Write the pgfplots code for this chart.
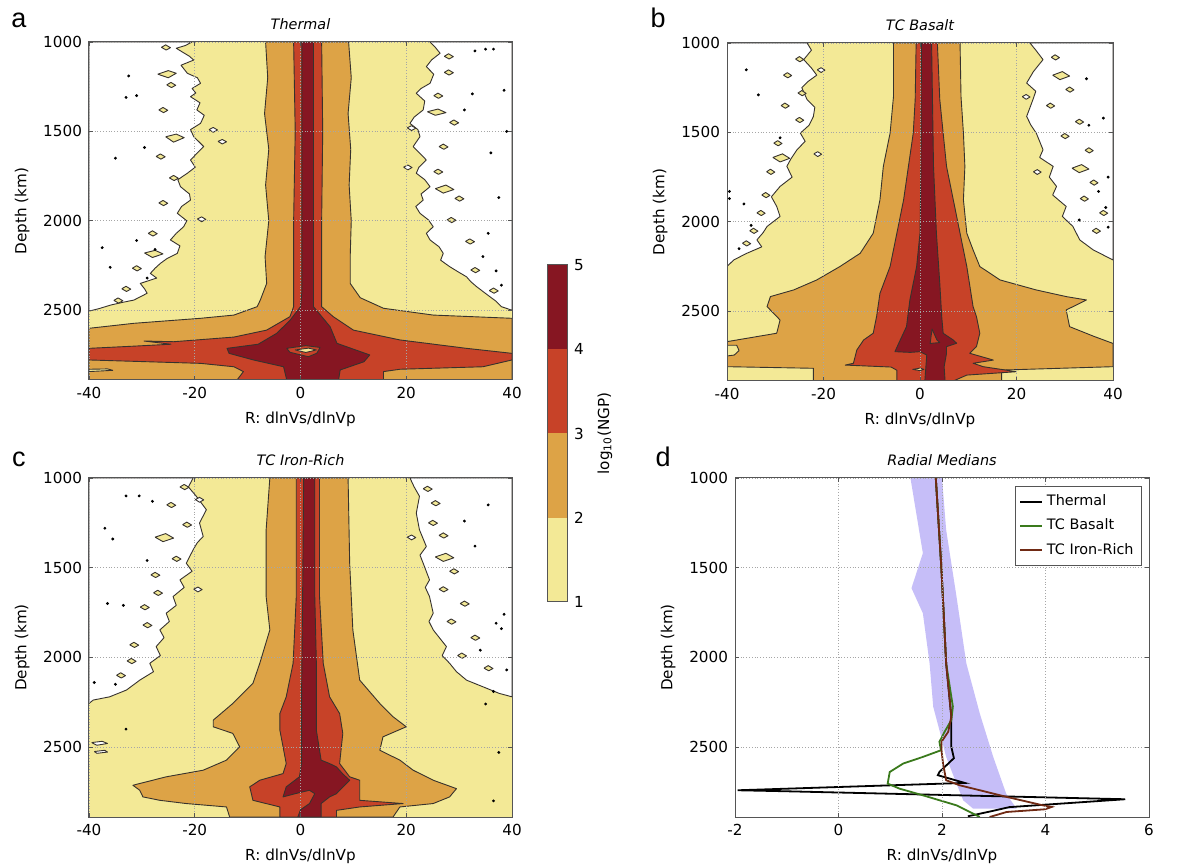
\documentclass[border=0pt]{standalone}
\usepackage{fontspec}
\setmainfont{DejaVu Sans}[ItalicFont={DejaVu Sans Oblique},BoldFont={DejaVu Sans Bold}]
\newfontfamily\letterfont{Liberation Sans}
\usepackage{pgfplots}
\pgfplotsset{compat=1.18}
\definecolor{cY}{RGB}{243,233,150}
\definecolor{cO}{RGB}{221,163,70}
\definecolor{cR}{RGB}{199,66,40}
\definecolor{cD}{RGB}{134,22,34}
\definecolor{cl}{RGB}{55,50,45}
\definecolor{band}{RGB}{198,190,248}
\definecolor{lgreen}{RGB}{58,122,28}
\definecolor{lbrown}{RGB}{112,42,20}
\definecolor{frame}{RGB}{85,85,85}
\pgfplotsset{
 every axis title shift=0pt,
 base/.style={scale only axis, axis on top, y dir=reverse, ymin=1000, ymax=2890, ytick={1000,1500,2000,2500},
   /pgf/number format/assume math mode=true, /pgf/number format/1000 sep={},
   tick label style={font=\fontsize{7.6}{9}\selectfont}, label style={font=\fontsize{7.6}{9}\selectfont},
   title style={font=\fontsize{7.2}{8}\selectfont\itshape, at={(0.5,1)}, anchor=base, yshift=6pt},
   grid=major, grid style={densely dotted, gray!70, line width=0.4pt},
   axis line style={frame, line width=0.5pt}, tick align=inside, major tick length=2pt, tick style={frame, line width=0.4pt},
   xlabel={R: dlnVs/dlnVp}, ylabel={Depth (km)}, unbounded coords=jump},
 cmap/.style={base, xmin=-40, xmax=40, xtick={-40,-20,0,20,40}},
 cf/.style={draw=cl, line width=0.45pt, line join=round},
 dots/.style={only marks, mark=*, mark size=0.5pt, black},
}
\begin{document}
\begin{tikzpicture}
\useasboundingbox (0,0) rectangle (596pt,432.5pt);
% ---------------- panel a
\begin{axis}[cmap, at={(44.5pt,242.5pt)}, anchor=south west, width=211.5pt, height=169pt, title={Thermal}]
\addplot[fill=cY, draw=none] coordinates {(-40,1000)(40,1000)(40,2890)(-40,2890)} -- cycle;
\addplot[cf, fill=white] coordinates {(-40,1000)(-20.5,1000)(-21.8,1020)(-23.5,1035)(-22.4,1055)(-21,1080)(-20.2,1101)(-22.6,1130)(-21.4,1175)(-19.5,1200)(-18.9,1231)(-20.5,1260)(-19.8,1285)(-20.8,1306)(-19,1340)(-19.6,1380)(-18.2,1410)(-18.9,1455)(-20.8,1490)(-20.2,1529)(-18.3,1585)(-19.5,1620)(-20.8,1660)(-19.9,1700)(-21.4,1734)(-23.2,1770)(-22.7,1809)(-21.0,1850)(-20.8,1884)(-22.5,1920)(-23.3,1958)(-21.5,2000)(-22.1,2033)(-23.5,2070)(-24.6,2107)(-22.8,2140)(-23.3,2182)(-25.2,2210)(-26.5,2238)(-27.5,2265)(-28.4,2294)(-27.2,2320)(-30.3,2350)(-29.5,2380)(-29.0,2405)(-31.5,2443)(-33.5,2455)(-35.9,2471)(-38,2490)(-40,2505)} -- cycle;
\addplot[cf, fill=white] coordinates {(40,1000)(24.5,1000)(25.5,1030)(26.4,1063)(24.8,1100)(23.8,1138)(25.2,1180)(24.5,1231)(22.8,1260)(21.9,1287)(23.5,1330)(23.2,1380)(21.5,1420)(20.7,1455)(22.2,1490)(22.6,1529)(21.3,1585)(22.5,1620)(23.8,1660)(22.4,1700)(21.9,1734)(23.5,1770)(24.5,1809)(22.8,1850)(23.2,1884)(21.8,1920)(22.6,1958)(24.2,1995)(25.1,2033)(23.8,2070)(24.5,2107)(26.2,2145)(27.0,2182)(26.5,2220)(28.2,2256)(29.8,2285)(31.4,2313)(32.2,2340)(33.3,2368)(35.8,2424)(37,2450)(38,2480)(40,2500)} -- cycle;
\addplot[cf, fill=cY] coordinates {
(-26.3,1030)(-25.5,1016)(-24.6,1032)(-25.4,1045)(-26.3,1030)(nan,nan)
(-27,1180)(-25,1160)(-23.5,1175)(-25,1200)(-27,1180)(nan,nan)
(-25.3,1240)(-24.5,1226)(-23.6,1242)(-24.4,1255)(-25.3,1240)(nan,nan)
(-26.8,1380)(-26,1366)(-25.1,1382)(-25.9,1395)(-26.8,1380)(nan,nan)
(-25.5,1530)(-23.5,1515)(-22,1535)(-24,1560)(-25.5,1530)(nan,nan)
(-27.3,1640)(-26.5,1626)(-25.6,1642)(-26.4,1655)(-27.3,1640)(nan,nan)
(-24.8,1760)(-24,1746)(-23.1,1762)(-23.9,1775)(-24.8,1760)(nan,nan)
(-26.8,1900)(-26,1886)(-25.1,1902)(-25.9,1915)(-26.8,1900)(nan,nan)
(-28.8,2070)(-28,2056)(-27.1,2072)(-27.9,2085)(-28.8,2070)(nan,nan)
(-29.5,2180)(-27.5,2165)(-26,2185)(-28,2205)(-29.5,2180)(nan,nan)
(-31.8,2265)(-31,2251)(-30.1,2267)(-30.9,2280)(-31.8,2265)(nan,nan)
(-33.8,2380)(-33,2366)(-32.1,2382)(-32.9,2395)(-33.8,2380)(nan,nan)
(-35.3,2445)(-34.5,2431)(-33.6,2447)(-34.4,2460)(-35.3,2445)(nan,nan)
(27.2,1080)(28,1066)(28.9,1082)(28.1,1095)(27.2,1080)(nan,nan)
(27.2,1170)(28,1156)(28.9,1172)(28.1,1185)(27.2,1170)(nan,nan)
(25.2,1300)(26,1286)(26.9,1302)(26.1,1315)(25.2,1300)(nan,nan)
(24,1390)(26,1375)(27.5,1395)(25.5,1410)(24,1390)(nan,nan)
(28.2,1450)(29,1436)(29.9,1452)(29.1,1465)(28.2,1450)(nan,nan)
(26.2,1585)(27,1571)(27.9,1587)(27.1,1600)(26.2,1585)(nan,nan)
(25.2,1725)(26,1711)(26.9,1727)(26.1,1740)(25.2,1725)(nan,nan)
(25.5,1820)(27.5,1800)(29,1825)(27,1845)(25.5,1820)(nan,nan)
(29.2,1875)(30,1861)(30.9,1877)(30.1,1890)(29.2,1875)(nan,nan)
(27.7,1995)(28.5,1981)(29.4,1997)(28.6,2010)(27.7,1995)(nan,nan)
(31.2,2115)(32,2101)(32.9,2117)(32.1,2130)(31.2,2115)(nan,nan)
(32.2,2275)(33,2261)(33.9,2277)(33.1,2290)(32.2,2275)(nan,nan)
(35.7,2390)(36.5,2376)(37.4,2392)(36.6,2405)(35.7,2390)};
\addplot[cf, fill=white] coordinates {
(-17.3,1490)(-16.5,1478)(-15.7,1492)(-16.5,1505)(-17.3,1490)(nan,nan)
(-15.6,1556)(-14.8,1545)(-14,1558)(-14.8,1570)(-15.6,1556)(nan,nan)
(-19.5,1990)(-18.7,1978)(-17.9,1992)(-18.7,2005)(-19.5,1990)(nan,nan)
(20.2,1480)(21,1468)(21.8,1482)(21,1495)(20.2,1480)(nan,nan)
(19.5,1700)(20.3,1688)(21.1,1702)(20.3,1715)(19.5,1700)};
\addplot[dots] coordinates {(-32.5,1190)(-31,1300)(-35,1650)(-29.5,1590)(-27.5,2160)(-37.5,2150)(-36,2260)(-29,2320)(-31,2110)(-33,1310)(35,1040)(36.5,1040)(33,1050)(38.5,1270)(32.5,1290)(39,1500)(36,1620)(37.5,1870)(35.5,2070)(34.5,2200)(38,2360)(37,2280)(31,1380)};
\addplot[cf, fill=cO] coordinates {(-40,2890)(-40,2601)(-31.5,2573)(-18.9,2545)(-12.6,2527)(-8.2,2480)(-7.6,2443)(-6.4,2350)(-6.7,2200)(-6.0,2000)(-6.6,1800)(-6.0,1600)(-6.8,1400)(-6.2,1200)(-6.6,1000)(9.1,1000)(9.6,1200)(9.0,1400)(9.5,1600)(9.2,1800)(9.6,2000)(9.4,2200)(9.4,2350)(11.3,2430)(15.7,2489)(25.1,2527)(40,2545)(40,2890)} -- cycle;
\addplot[cf, fill=cY] coordinates {(-40,2830)(-36.5,2828)(-35.5,2836)(-40,2843)} -- cycle;
\addplot[cf, fill=cR] coordinates {(-1.3,1000)(-1.0,1500)(-1.3,2000)(-1.3,2480)(-2.0,2536)(-6.4,2611)(-12.6,2650)(-24,2676)(-29.6,2672)(-24.5,2690)(-31,2700)(-40,2713)(-40,2778)(-18.9,2797)(-12.6,2816)(-10.8,2843)(-12,2890)(15.7,2890)(15.7,2843)(18.8,2830)(34.5,2816)(40,2778)(40,2741)(31.4,2713)(18.8,2666)(10,2611)(6.2,2536)(4.0,2480)(4.0,2000)(4.2,1500)(4.0,1000)} -- cycle;
\addplot[cf, fill=cD] coordinates {(0.25,1000)(0.25,2400)(0.0,2480)(-1.95,2555)(-4.5,2629)(-8,2690)(-13.9,2713)(-13.5,2741)(-8.9,2778)(-3.2,2816)(-2.6,2890)(7.2,2890)(7.5,2834)(12,2788)(13.1,2750)(6.9,2685)(5.6,2592)(2.45,2480)(2.45,1000)} -- cycle;
\addplot[cf, fill=cR] coordinates {(-2.6,2713)(1,2698)(3.7,2708)(3.1,2740)(1.5,2760)(-2.0,2735)} -- cycle;
\addplot[cf, fill=cY] coordinates {(-1,2722)(1.5,2712)(3.0,2722)(1,2736)} -- cycle;
\end{axis}
% ---------------- panel b
\begin{axis}[cmap, at={(363.5pt,242pt)}, anchor=south west, width=193pt, height=169pt, title={TC Basalt}]
\addplot[fill=cY, draw=none] coordinates {(-40,1000)(40,1000)(40,2890)(-40,2890)} -- cycle;
\addplot[cf, fill=white] coordinates {(-40,1000)(-23.4,1000)(-22.5,1040)(-24.1,1093)(-22.5,1140)(-21.4,1180)(-23.2,1215)(-24.5,1250)(-23.4,1317)(-21.8,1360)(-22.1,1411)(-23.0,1460)(-24.8,1504)(-23.8,1550)(-25.5,1597)(-26.8,1650)(-27.6,1690)(-26.5,1750)(-29.0,1802)(-30.8,1860)(-29.7,1914)(-29,1970)(-31.7,2026)(-32.5,2060)(-33.8,2101)(-32.8,2140)(-35.9,2176)(-38.6,2213)(-40,2250)} -- cycle;
\addplot[cf, fill=white] coordinates {(40,1000)(22.8,1000)(24,1040)(25.5,1093)(23.5,1160)(22.1,1224)(24,1270)(23.4,1317)(22.1,1411)(23,1460)(24.1,1504)(25.5,1597)(24.8,1640)(27.6,1690)(26.8,1750)(28.3,1802)(27.5,1850)(30.3,1914)(29.5,1970)(31.7,2026)(33.1,2101)(35.9,2157)(38.6,2194)(40,2213)} -- cycle;
\addplot[cf, fill=cY] coordinates {
(-25.8,1090)(-25,1076)(-24.1,1092)(-24.9,1105)(-25.8,1090)(nan,nan)
(-28.3,1180)(-27.5,1166)(-26.6,1182)(-27.4,1195)(-28.3,1180)(nan,nan)
(-25.3,1280)(-24.5,1266)(-23.6,1282)(-24.4,1295)(-25.3,1280)(nan,nan)
(-28.8,1350)(-28,1336)(-27.1,1352)(-27.9,1365)(-28.8,1350)(nan,nan)
(-25.8,1430)(-25,1416)(-24.1,1432)(-24.9,1445)(-25.8,1430)(nan,nan)
(-30.3,1560)(-29.5,1546)(-28.6,1562)(-29.4,1575)(-30.3,1560)(nan,nan)
(-30.5,1640)(-28.5,1620)(-27,1645)(-29,1665)(-30.5,1640)(nan,nan)
(-31.8,1720)(-31,1706)(-30.1,1722)(-30.9,1735)(-31.8,1720)(nan,nan)
(-32.8,1850)(-32,1836)(-31.1,1852)(-31.9,1865)(-32.8,1850)(nan,nan)
(-33.8,1950)(-33,1936)(-32.1,1952)(-32.9,1965)(-33.8,1950)(nan,nan)
(-35.3,2050)(-34.5,2036)(-33.6,2052)(-34.4,2065)(-35.3,2050)(nan,nan)
(-36.8,2120)(-36,2106)(-35.1,2122)(-35.9,2135)(-36.8,2120)(nan,nan)
(27.2,1080)(28,1066)(28.9,1082)(28.1,1095)(27.2,1080)(nan,nan)
(27.5,1180)(29.5,1160)(31,1185)(29,1205)(27.5,1180)(nan,nan)
(30.2,1260)(31,1246)(31.9,1262)(31.1,1275)(30.2,1260)(nan,nan)
(26.2,1350)(27,1336)(27.9,1352)(27.1,1365)(26.2,1350)(nan,nan)
(32.2,1440)(33,1426)(33.9,1442)(33.1,1455)(32.2,1440)(nan,nan)
(29.2,1520)(30,1506)(30.9,1522)(30.1,1535)(29.2,1520)(nan,nan)
(34.2,1600)(35,1586)(35.9,1602)(35.1,1615)(34.2,1600)(nan,nan)
(31.5,1700)(33.5,1680)(35,1705)(33,1725)(31.5,1700)(nan,nan)
(35.2,1780)(36,1766)(36.9,1782)(36.1,1795)(35.2,1780)(nan,nan)
(33.2,1870)(34,1856)(34.9,1872)(34.1,1885)(33.2,1870)(nan,nan)
(37.2,1950)(38,1936)(38.9,1952)(38.1,1965)(37.2,1950)(nan,nan)
(35.7,2050)(36.5,2036)(37.4,2052)(36.6,2065)(35.7,2050)};
\addplot[cf, fill=white] coordinates {
(-21.3,1150)(-20.5,1138)(-19.7,1152)(-20.5,1165)(-21.3,1150)(nan,nan)
(-22,1620)(-21.2,1608)(-20.4,1622)(-21.2,1635)(-22,1620)(nan,nan)
(21.2,1300)(22,1288)(22.8,1302)(22,1315)(21.2,1300)(nan,nan)
(23.5,1720)(24.3,1708)(25.1,1722)(24.3,1735)(23.5,1720)};
\addplot[dots] coordinates {(-36,1150)(-33.5,1290)(-29,1530)(-39.5,1830)(-39.5,1870)(-36.5,1900)(-35,2020)(-37.5,2150)(34.5,1200)(38,1420)(35,1460)(39,1750)(37,1830)(38.5,1920)(33,1990)(39,2030)};
\addplot[cf, fill=cO] coordinates {(-5.5,1000)(-5.5,1300)(-6.2,1504)(-7.6,1690)(-8.3,1877)(-9.7,2064)(-12.4,2176)(-16.6,2250)(-21.4,2325)(-26.2,2381)(-31.0,2418)(-31.7,2474)(-29.0,2549)(-29.7,2623)(-40,2670)(-40,2810)(-22.1,2819)(-22.1,2890)(16.9,2890)(16.9,2829)(40,2810)(40,2680)(36,2640)(31,2586)(30.3,2493)(34.5,2437)(30.3,2418)(24.1,2381)(16.6,2325)(12.4,2250)(11.0,2157)(9.7,2064)(9.0,1877)(9.3,1690)(9.0,1504)(8.5,1300)(8.3,1000)} -- cycle;
\addplot[cf, fill=cY] coordinates {(-40,2690)(-38,2690)(-37.5,2720)(-38.5,2745)(-40,2750)} -- cycle;
\addplot[cf, fill=cR] coordinates {(-0.8,1000)(-1.0,1317)(-1.4,1504)(-2.4,1690)(-3.4,1877)(-4.8,2064)(-6.2,2250)(-8.3,2400)(-9.0,2530)(-9.7,2623)(-11.7,2661)(-13.1,2717)(-13.8,2791)(-15.5,2801)(-6,2812)(-4.8,2830)(-4.8,2890)(6.9,2890)(9.7,2857)(20.0,2838)(13.1,2810)(11.0,2791)(15.2,2773)(10.3,2735)(11.7,2698)(12.4,2623)(11.7,2530)(11.0,2474)(9.7,2250)(8.3,2064)(6.9,1877)(5.5,1690)(4.8,1504)(4.1,1317)(3.6,1000)} -- cycle;
\addplot[cf, fill=cD] coordinates {(0.3,1000)(0.2,1690)(0.0,2064)(-0.7,2250)(-2.1,2437)(-2.8,2586)(-4.1,2661)(-5.2,2726)(-2,2730)(0.0,2726)(1.4,2745)(1.0,2890)(5.2,2890)(5.0,2810)(5.5,2735)(5.5,2698)(7.6,2679)(6.9,2661)(4.8,2623)(4.5,2530)(4.1,2344)(3.4,2064)(2.8,1690)(2.4,1000)} -- cycle;
\addplot[cf, fill=cR] coordinates {(2.1,2680)(2.5,2600)(3.5,2660)(4.1,2675)} -- cycle;
\addplot[cf, fill=cY] coordinates {(-1.5,2825)(0,2818)(0.8,2825)(0,2832)} -- cycle;
\end{axis}
% ---------------- panel c
\begin{axis}[cmap, at={(44.5pt,24pt)}, anchor=south west, width=211.5pt, height=169.5pt, title={TC Iron-Rich}]
\addplot[fill=cY, draw=none] coordinates {(-40,1000)(40,1000)(40,2890)(-40,2890)} -- cycle;
\addplot[cf, fill=white] coordinates {(-40,1000)(-20.3,1000)(-21.2,1050)(-19.7,1102)(-17.8,1177)(-19.1,1251)(-18.4,1326)(-19.5,1360)(-20.3,1400)(-21.6,1475)(-20.5,1520)(-22.8,1568)(-22,1610)(-24.1,1661)(-23.5,1710)(-25.4,1754)(-24.8,1800)(-26.6,1847)(-25.8,1890)(-27.3,1940)(-26.5,1990)(-28.5,2033)(-27.8,2080)(-30.4,2127)(-32.9,2182)(-36.1,2220)(-39.2,2238)(-40,2257)} -- cycle;
\addplot[cf, fill=white] coordinates {(40,1000)(20.7,1000)(21.5,1050)(22.5,1102)(21.9,1196)(22.5,1289)(23.8,1382)(22.6,1430)(23.2,1475)(24.4,1568)(23.6,1610)(24.4,1661)(25.1,1754)(24.3,1800)(25.1,1847)(27.6,1940)(26.8,1990)(28.2,2033)(29.5,2080)(31.4,2127)(34.5,2164)(37.6,2201)(40,2220)} -- cycle;
\addplot[cf, fill=white] coordinates {(-39.5,2475)(-37.5,2468)(-36.5,2480)(-38.5,2490)(-39.5,2475)(nan,nan)(-39,2525)(-37,2518)(-36.5,2528)(-38.5,2535)(-39,2525)};
\addplot[cf, fill=cY] coordinates {
(-22.8,1050)(-22,1036)(-21.1,1052)(-21.9,1065)(-22.8,1050)(nan,nan)
(-25.3,1150)(-24.5,1136)(-23.6,1152)(-24.4,1165)(-25.3,1150)(nan,nan)
(-22.3,1260)(-21.5,1246)(-20.6,1262)(-21.4,1275)(-22.3,1260)(nan,nan)
(-27.5,1330)(-25.5,1310)(-24,1335)(-26,1355)(-27.5,1330)(nan,nan)
(-24.3,1450)(-23.5,1436)(-22.6,1452)(-23.4,1465)(-24.3,1450)(nan,nan)
(-28.3,1540)(-27.5,1526)(-26.6,1542)(-27.4,1555)(-28.3,1540)(nan,nan)
(-27.8,1640)(-27,1626)(-26.1,1642)(-26.9,1655)(-27.8,1640)(nan,nan)
(-30.3,1720)(-29.5,1706)(-28.6,1722)(-29.4,1735)(-30.3,1720)(nan,nan)
(-29.8,1820)(-29,1806)(-28.1,1822)(-28.9,1835)(-29.8,1820)(nan,nan)
(-32.3,1930)(-31.5,1916)(-30.6,1932)(-31.4,1945)(-32.3,1930)(nan,nan)
(-32.8,2020)(-32,2006)(-31.1,2022)(-31.9,2035)(-32.8,2020)(nan,nan)
(-34.8,2100)(-34,2086)(-33.1,2102)(-33.9,2115)(-34.8,2100)(nan,nan)
(23.2,1060)(24,1046)(24.9,1062)(24.1,1075)(23.2,1060)(nan,nan)
(24.7,1140)(25.5,1126)(26.4,1142)(25.6,1155)(24.7,1140)(nan,nan)
(24.2,1250)(25,1236)(25.9,1252)(25.1,1265)(24.2,1250)(nan,nan)
(26.2,1320)(27,1306)(27.9,1322)(27.1,1335)(26.2,1320)(nan,nan)
(25.5,1440)(27.5,1420)(29,1445)(27,1465)(25.5,1440)(nan,nan)
(28.2,1520)(29,1506)(29.9,1522)(29.1,1535)(28.2,1520)(nan,nan)
(26.2,1620)(27,1606)(27.9,1622)(27.1,1635)(26.2,1620)(nan,nan)
(30.2,1700)(31,1686)(31.9,1702)(31.1,1715)(30.2,1700)(nan,nan)
(27.7,1800)(28.5,1786)(29.4,1802)(28.6,1815)(27.7,1800)(nan,nan)
(32.2,1890)(33,1876)(33.9,1892)(33.1,1905)(32.2,1890)(nan,nan)
(29.7,1990)(30.5,1976)(31.4,1992)(30.6,2005)(29.7,1990)(nan,nan)
(34.7,2060)(35.5,2046)(36.4,2062)(35.6,2075)(34.7,2060)};
\addplot[cf, fill=white] coordinates {
(-19.9,1120)(-19.1,1108)(-18.3,1122)(-19.1,1135)(-19.9,1120)(nan,nan)
(-20.2,1620)(-19.4,1608)(-18.6,1622)(-19.4,1635)(-20.2,1620)(nan,nan)
(20.2,1330)(21,1318)(21.8,1332)(21,1345)(20.2,1330)};
\addplot[dots] coordinates {(-33,1100)(-30.5,1100)(-28,1130)(-37,1280)(-35.5,1340)(-29,1460)(-36.5,1700)(-33.5,1710)(-39,2140)(-35,2150)(-33,2400)(35.5,1150)(31,1240)(33,1380)(38.5,1760)(37,1810)(38,1840)(34,1960)(39,2070)(36.5,2190)(35,2260)(37.5,2530)(36.5,2800)};
\addplot[cf, fill=cO] coordinates {(-5.8,1000)(-6.5,1289)(-6.5,1661)(-5.8,1847)(-7.7,2033)(-9.0,2145)(-12.8,2257)(-16.5,2350)(-16.5,2387)(-12.8,2424)(-11.5,2499)(-14.0,2573)(-18.4,2629)(-25.4,2666)(-31.7,2713)(-30.4,2741)(-29.8,2778)(-26.6,2797)(-21.6,2815)(-14.0,2834)(-13.4,2890)(17.5,2890)(18.8,2834)(25.1,2815)(28.2,2778)(29.5,2732)(25.1,2685)(21.3,2629)(18.8,2573)(15.0,2518)(15.6,2443)(20.0,2387)(17.5,2331)(15.0,2257)(11.2,2127)(9.9,1847)(9.3,1475)(9.0,1000)} -- cycle;
\addplot[cf, fill=cR] coordinates {(-0.8,1000)(-0.8,1661)(-1.4,2033)(-2.7,2220)(-3.9,2313)(-3.9,2406)(-2.7,2592)(-3.3,2648)(-7.7,2685)(-9.6,2722)(-9.0,2797)(-3.9,2834)(-3.9,2890)(6.8,2890)(6.8,2853)(11.2,2834)(19.4,2815)(11.2,2797)(11.2,2741)(11.2,2685)(9.3,2666)(7.4,2592)(8.0,2424)(7.4,2313)(5.5,2220)(4.3,2033)(3.6,1661)(3.6,1000)} -- cycle;
\addplot[cf, fill=cD] coordinates {(0.6,1000)(0.4,1661)(0.2,2220)(0.2,2592)(-0.2,2666)(-2.7,2722)(-3.3,2778)(-1.0,2760)(1.7,2741)(2.7,2760)(1.7,2815)(0.0,2850)(-0.5,2890)(3.9,2890)(3.9,2815)(5.5,2778)(6.8,2760)(7.4,2741)(9.3,2685)(8.0,2650)(7.4,2630)(6.8,2611)(5.5,2592)(3.9,2573)(3.0,2406)(3.0,2033)(2.7,1661)(2.7,1000)} -- cycle;
\end{axis}
% ---------------- panel d
\begin{axis}[base, at={(367.5pt,24pt)}, anchor=south west, width=207pt, height=169.5pt, title={Radial Medians},
  xmin=-2, xmax=6, xtick={-2,0,2,4,6},
  legend style={at={(0.983,0.976)}, anchor=north east, draw=frame, font=\fontsize{7.2}{8}\selectfont, row sep=1.2pt, inner sep=2pt},
  legend cell align=left,
  legend image code/.code={\draw[#1, line width=1pt] (0cm,0cm) -- (0.38cm,0cm);}]
\addplot[fill=band, draw=none, forget plot] coordinates {(1.39,1000)(1.63,1419)(1.41,1614)(1.63,1754)(1.76,2033)(1.83,2275)(1.95,2406)(2.08,2555)(2.28,2704)(2.41,2797)(2.6,2843)(3.44,2843)(3.24,2760)(2.99,2555)(2.73,2313)(2.47,2033)(2.28,1661)(2.08,1289)(2.0,1000)} -- cycle;
\addplot[black, line width=0.9pt] coordinates {(1.88,1000)(1.99,1512)(2.08,2033)(2.18,2331)(2.18,2499)(2.23,2562)(1.95,2639)(1.92,2657)(2.15,2676)(2.44,2700)(-1.95,2741)(-1.1,2746)(5.54,2791)(3.3,2835)(2.95,2858)(2.5,2886)};
\addlegendentry{Thermal}
\addplot[lgreen, line width=0.9pt] coordinates {(1.88,1000)(1.99,1512)(2.08,2033)(2.21,2275)(2.18,2350)(2.05,2415)(1.95,2471)(1.98,2518)(1.63,2555)(1.25,2592)(0.99,2639)(0.95,2704)(1.18,2732)(1.63,2769)(2.28,2825)(2.73,2890)};
\addlegendentry{TC Basalt}
\addplot[lbrown, line width=0.9pt] coordinates {(1.88,1000)(1.99,1512)(2.08,2033)(2.18,2331)(2.12,2415)(1.99,2471)(1.99,2518)(2.02,2592)(2.08,2685)(2.34,2713)(3.25,2778)(3.95,2825)(4.12,2834)(3.99,2847)(3.25,2862)(2.92,2890)};
\addlegendentry{TC Iron-Rich}
\end{axis}
% ---------------- colorbar
\begin{axis}[scale only axis, at={(273.5pt,131.5pt)}, anchor=south west, width=10pt, height=168.5pt,
  xmin=0, xmax=1, ymin=1, ymax=5, xtick=\empty, ytick={1,2,3,4,5}, yticklabel pos=right,
  ylabel={log\textsubscript{10}(NGP)}, ylabel near ticks,
  /pgf/number format/assume math mode=true,
  tick label style={font=\fontsize{7.6}{9}\selectfont}, label style={font=\fontsize{7.6}{9}\selectfont},
  axis line style={frame, line width=0.5pt}, ytick style={draw=none}, axis on top]
\addplot[fill=cY, draw=none] coordinates {(0,1)(1,1)(1,2)(0,2)} -- cycle;
\addplot[fill=cO, draw=none] coordinates {(0,2)(1,2)(1,3)(0,3)} -- cycle;
\addplot[fill=cR, draw=none] coordinates {(0,3)(1,3)(1,4)(0,4)} -- cycle;
\addplot[fill=cD, draw=none] coordinates {(0,4)(1,4)(1,5)(0,5)} -- cycle;
\end{axis}
% panel letters
\node[anchor=base, font=\letterfont\fontsize{13.5}{14}\selectfont, inner sep=0pt] at (9.5pt,418.5pt) {a};
\node[anchor=base, font=\letterfont\fontsize{13.5}{14}\selectfont, inner sep=0pt] at (329pt,418.5pt) {b};
\node[anchor=base, font=\letterfont\fontsize{13.5}{14}\selectfont, inner sep=0pt] at (9.5pt,199pt) {c};
\node[anchor=base, font=\letterfont\fontsize{13.5}{14}\selectfont, inner sep=0pt] at (331.5pt,199pt) {d};
\end{tikzpicture}
\end{document}
